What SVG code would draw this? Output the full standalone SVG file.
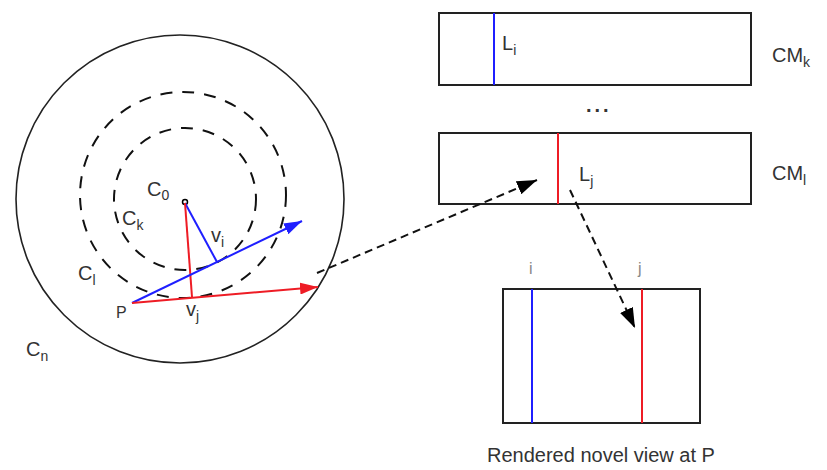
<svg xmlns="http://www.w3.org/2000/svg" width="827" height="470" viewBox="0 0 827 470">
<style>
text{font-family:"Liberation Sans",Arial,sans-serif;fill:#333;font-size:20px}
.sub{font-size:14px}
.box{fill:#fff;stroke:#222;stroke-width:2}
.dc{fill:none;stroke:#111;stroke-width:2;stroke-dasharray:12 10}
.conn{fill:none;stroke:#111;stroke-width:2;stroke-dasharray:8 5}
.blue{stroke:#1f1fff;stroke-width:2;fill:none}
.red{stroke:#ee1c25;stroke-width:2;fill:none}
</style>
<defs>
<marker id="ahk" viewBox="0 0 20 14" refX="20" refY="7" markerWidth="20" markerHeight="14" orient="auto" markerUnits="userSpaceOnUse">
<path d="M0,0 L20,7 L0,14 z" fill="#000"/>
</marker>
<marker id="ahb" viewBox="0 0 18 12" refX="18" refY="6" markerWidth="18" markerHeight="12" orient="auto" markerUnits="userSpaceOnUse">
<path d="M0,0 L18,6 L0,12 z" fill="#1f1fff"/>
</marker>
<marker id="ahr" viewBox="0 0 18 12" refX="18" refY="6" markerWidth="18" markerHeight="12" orient="auto" markerUnits="userSpaceOnUse">
<path d="M0,0 L18,6 L0,12 z" fill="#ee1c25"/>
</marker>
</defs>

<g id="circle-Cn">
<circle cx="180" cy="199" r="164" fill="none" stroke="#222" stroke-width="1.6"/>
<text x="26" y="356">C<tspan class="sub" dy="5">n</tspan></text>
</g>
<g id="circle-Cl">
<circle class="dc" cx="183" cy="195" r="103"/>
<text x="78" y="280">C<tspan class="sub" dy="5">l</tspan></text>
</g>
<g id="circle-Ck">
<circle class="dc" cx="185" cy="199" r="71"/>
<text x="122" y="225">C<tspan class="sub" dy="5">k</tspan></text>
</g>
<g id="point-C0">
<circle cx="185" cy="202" r="2.5" fill="#fff" stroke="#000" stroke-width="1.5"/>
<text x="147" y="196">C<tspan class="sub" dy="4">0</tspan></text>
</g>
<g id="vectors">
<line class="blue" x1="185" y1="203" x2="217" y2="262"/>
<line class="red" x1="185" y1="203" x2="192" y2="297"/>
<line class="blue" x1="132" y1="303" x2="302" y2="221" marker-end="url(#ahb)"/>
<line class="red" x1="132" y1="303" x2="318" y2="287" marker-end="url(#ahr)"/>
<text x="211" y="242">v<tspan class="sub" dy="5">i</tspan></text>
<text x="186" y="316">v<tspan class="sub" dy="5">j</tspan></text>
</g>
<g id="point-P">
<text x="116" y="318" style="font-size:16px">P</text>
</g>

<g id="CMk">
<rect class="box" x="439" y="13" width="312" height="72"/>
<line class="blue" x1="494" y1="13" x2="494" y2="85"/>
<text x="502" y="50">L<tspan class="sub" dy="5">i</tspan></text>
<text x="772" y="62">CM<tspan class="sub" dy="5">k</tspan></text>
</g>
<g id="dots">
<text x="586" y="112" style="letter-spacing:3px;font-weight:bold">...</text>
</g>
<g id="CMl">
<rect class="box" x="439" y="133" width="312" height="71"/>
<line class="red" x1="558" y1="133" x2="558" y2="204"/>
<text x="579" y="181">L<tspan class="sub" dy="5">j</tspan></text>
<text x="772" y="180">CM<tspan class="sub" dy="5">l</tspan></text>
</g>
<g id="rendered-view">
<rect class="box" x="503" y="289" width="197" height="134"/>
<line class="blue" x1="532" y1="289" x2="532" y2="423"/>
<line class="red" x1="642" y1="289" x2="642" y2="423"/>
<text x="529" y="274" style="font-size:16px;fill:#888">i</text>
<text x="638" y="274" style="font-size:16px;fill:#888">j</text>
<text x="487" y="462" style="font-size:20px">Rendered novel view at P</text>
</g>

<g id="connectors">
<line class="conn" x1="317" y1="273" x2="537" y2="180" marker-end="url(#ahk)"/>
<line class="conn" x1="570" y1="190" x2="635" y2="328" marker-end="url(#ahk)"/>
</g>
</svg>
